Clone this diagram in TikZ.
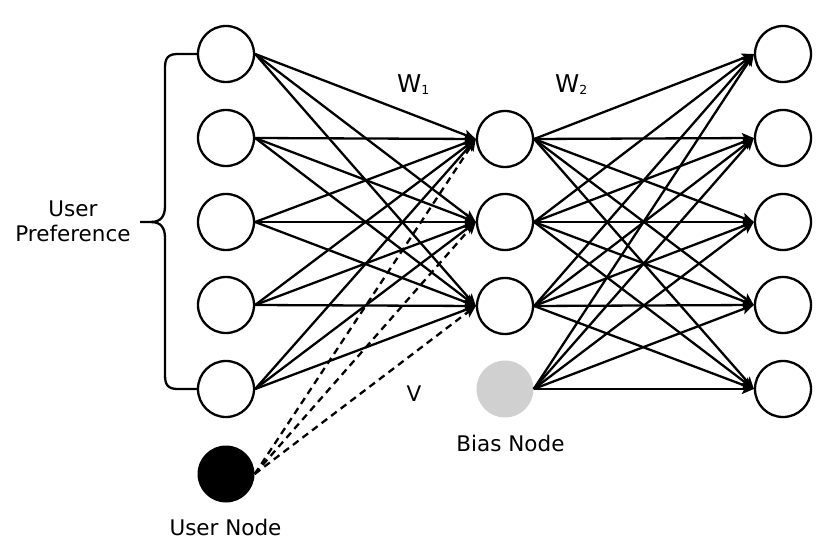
\documentclass[tikz,border=0pt]{standalone}
\usepackage{fontspec}
\setmainfont{DejaVu Sans}
\usetikzlibrary{arrows.meta}
\definecolor{biasgray}{HTML}{D0D0D0}
\begin{document}
\begin{tikzpicture}[x=1pt,y=-1pt,
  neuron/.style={circle,draw,line width=2.3pt,minimum size=56pt,inner sep=0pt,fill=white},
  usernode/.style={circle,fill=black,minimum size=57pt,inner sep=0pt},
  biasnode/.style={circle,fill=biasgray,minimum size=57pt,inner sep=0pt},
  conn/.style={line width=2.3pt,-{Stealth[length=12pt,width=10pt,inset=2.5pt]}},
  dconn/.style={conn,dash pattern=on 7pt off 5pt},
  lbl/.style={font=\fontsize{21.5}{25}\selectfont,inner sep=0pt,anchor=base},
  wlbl/.style={font=\fontsize{24.5}{28}\selectfont,inner sep=0pt,anchor=base west},
  brace/.style={line width=2.3pt}]
\useasboundingbox (0,0) rectangle (829,545);
% nodes
\foreach \i/\y in {1/54,2/138,3/222,4/305,5/389} {
  \node[neuron] (l\i) at (226,\y) {};
  \node[neuron] (r\i) at (783,\y) {};
}
\foreach \i/\y in {1/139,2/222,3/306}
  \node[neuron] (m\i) at (505,\y) {};
\node[biasnode] (b) at (505,389) {};
\node[usernode] (u) at (226,474) {};
% connectors
\foreach \i in {1,...,5}
  \foreach \j in {1,2,3}
    \draw[conn] (l\i.east) -- (m\j.west);
\foreach \j in {1,2,3}
  \draw[dconn] (u.east) -- (m\j.west);
\foreach \i in {1,2,3}
  \foreach \j in {1,...,5}
    \draw[conn] (m\i.east) -- (r\j.west);
\foreach \j in {1,...,5}
  \draw[conn] (b.east) -- (r\j.west);
% brace
\draw[brace] (l1.west) -- (178,54) .. controls (168,54) and (165,58) .. (165,68)
  -- (165,206) .. controls (165,216) and (161,222) .. (151,222) -- (140,222);
\draw[brace] (l5.west) -- (178,389) .. controls (168,389) and (165,385) .. (165,375)
  -- (165,238) .. controls (165,228) and (161,222) .. (151,222);
% labels
\node[lbl] (up1) at (73,216.7) {User};
\node[lbl] (up2) at (73,241.7) {Preference};
\node[lbl] (ul) at (225.5,535) {User Node};
\node[lbl] (bl) at (510.5,451.7) {Bias Node};
\node[lbl] (vl) at (414,401) {V};
\node[wlbl] (w1) at (397,93) {W\raisebox{-2pt}{\fontsize{12.5}{14}\selectfont 1}};
\node[wlbl] (w2) at (555,93) {W\raisebox{-2pt}{\fontsize{12.5}{14}\selectfont 2}};
\end{tikzpicture}
\end{document}
